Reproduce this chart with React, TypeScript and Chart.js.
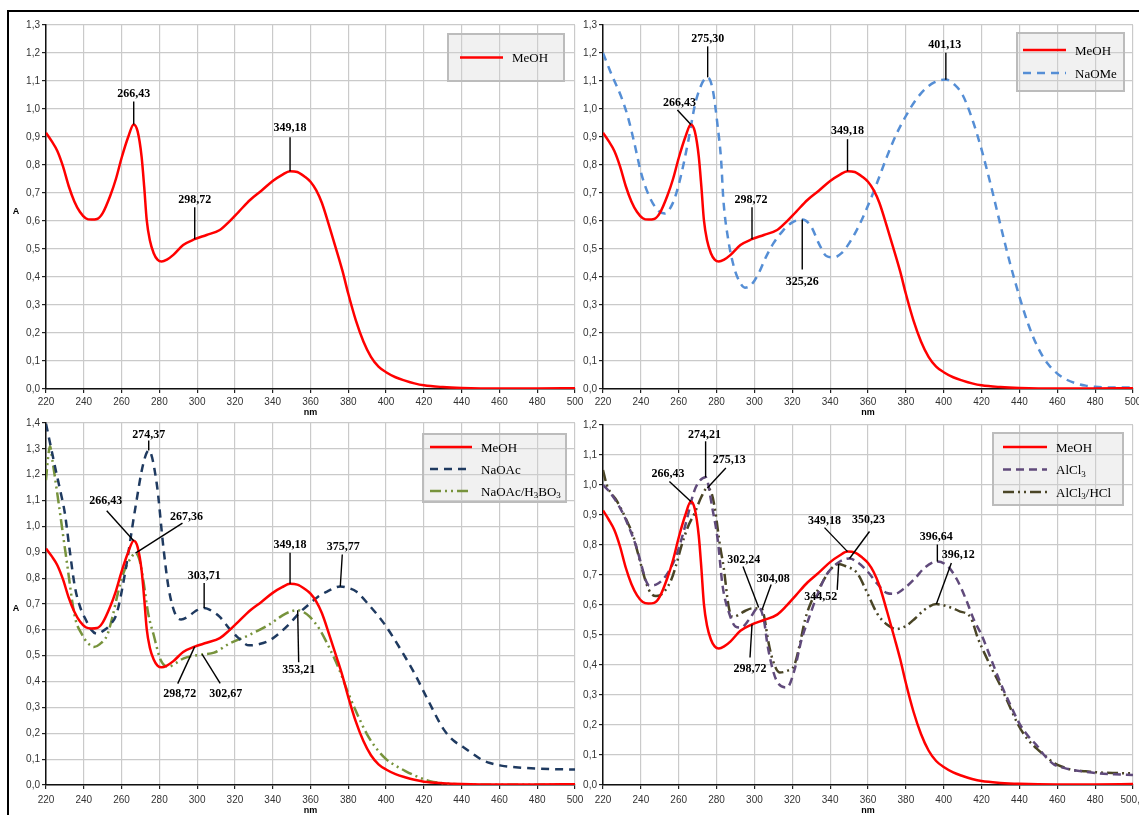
import React, { useEffect, useRef } from 'react';
import { Chart, registerables } from 'chart.js';
Chart.register(...registerables);

// ---------------- data ----------------
const meohNm = [220, 223, 226, 229, 232, 235, 238, 241, 244, 247, 250, 254, 257, 260, 263.5, 266.4, 268.5, 270.6, 272, 273.3, 275, 277, 279, 281.2, 284, 287.4, 292.6, 298.7, 305, 312, 317, 322, 328, 334, 340, 345, 349.2, 353, 357, 360, 363, 366, 370, 374, 377, 380, 384, 388, 392, 396, 400, 405, 410, 415, 420, 430, 440, 460, 480, 500];
const meohA = [0.915, 0.885, 0.85, 0.795, 0.725, 0.67, 0.632, 0.61, 0.605, 0.607, 0.628, 0.69, 0.75, 0.825, 0.9, 0.945, 0.92, 0.83, 0.72, 0.604, 0.53, 0.485, 0.462, 0.455, 0.462, 0.479, 0.514, 0.535, 0.55, 0.568, 0.598, 0.633, 0.675, 0.708, 0.743, 0.765, 0.778, 0.775, 0.758, 0.74, 0.71, 0.665, 0.58, 0.49, 0.42, 0.34, 0.245, 0.17, 0.115, 0.08, 0.06, 0.042, 0.03, 0.02, 0.013, 0.007, 0.004, 0.002, 0.002, 0.003];

const naomeNm = [220, 224.3, 229.6, 233.1, 236.6, 240.2, 244.5, 248.9, 252.5, 256.8, 260.4, 264.8, 269.2, 275.3, 278, 280.6, 282.4, 283.6, 286, 289, 292, 295, 298, 302, 306, 310, 315, 320, 325.3, 330, 334, 338, 342, 346, 350, 355, 360, 365, 370, 375, 380, 385, 390, 395, 401.1, 406, 410, 415, 420, 425, 430, 435, 440, 445, 450, 455, 460, 465, 470, 475, 480, 490, 500];
const naomeA = [1.2, 1.127, 1.044, 0.973, 0.877, 0.77, 0.687, 0.639, 0.627, 0.663, 0.74, 0.877, 1.032, 1.113, 1.068, 0.937, 0.818, 0.675, 0.54, 0.44, 0.385, 0.362, 0.37, 0.41, 0.47, 0.52, 0.565, 0.595, 0.605, 0.58, 0.52, 0.475, 0.47, 0.485, 0.52, 0.58, 0.655, 0.74, 0.83, 0.91, 0.975, 1.03, 1.07, 1.095, 1.105, 1.085, 1.05, 0.965, 0.855, 0.725, 0.585, 0.45, 0.33, 0.225, 0.145, 0.09, 0.055, 0.033, 0.02, 0.012, 0.008, 0.005, 0.005];

const naoacNm = [220, 222.5, 224.8, 227.5, 230, 232.5, 235.3, 238, 241, 244, 247, 250, 254, 257.4, 261.8, 267.1, 271.5, 274.4, 278.6, 282.1, 284.8, 288.3, 291.5, 295, 299, 303.7, 308, 312, 317, 321.2, 327.5, 333, 338.5, 344, 349.1, 354, 359.7, 364, 368.5, 375.8, 380, 384.4, 391.8, 398.9, 407.9, 415, 422.2, 430.5, 436, 440.6, 445, 450.8, 455, 460.9, 470, 479.2, 490, 500];
const naoacA = [1.397, 1.31, 1.23, 1.14, 1.05, 0.91, 0.766, 0.69, 0.64, 0.6, 0.585, 0.595, 0.62, 0.663, 0.818, 1.063, 1.243, 1.294, 1.166, 0.921, 0.766, 0.663, 0.64, 0.65, 0.672, 0.685, 0.672, 0.65, 0.605, 0.573, 0.54, 0.545, 0.56, 0.59, 0.625, 0.665, 0.702, 0.728, 0.747, 0.768, 0.762, 0.747, 0.689, 0.625, 0.522, 0.432, 0.328, 0.215, 0.17, 0.148, 0.125, 0.097, 0.085, 0.075, 0.068, 0.064, 0.061, 0.06];

const boricNm = [220, 221, 222.1, 223.5, 226.5, 230.9, 235.3, 239.2, 242, 245.3, 248.5, 252.4, 255, 258, 260.9, 265.3, 267.4, 269.5, 271.5, 274.1, 277, 280.7, 284.8, 288.5, 292.9, 302.7, 309, 317.1, 327.5, 338.5, 345, 349.1, 353.2, 356.5, 359.7, 365, 370, 375, 380, 385, 390, 395, 400, 405, 410, 415, 420, 425, 430, 440, 460, 500];
const boricA = [1.179, 1.26, 1.31, 1.25, 1.1, 0.869, 0.65, 0.58, 0.55, 0.534, 0.545, 0.58, 0.645, 0.74, 0.818, 0.882, 0.897, 0.87, 0.792, 0.663, 0.58, 0.483, 0.457, 0.47, 0.49, 0.505, 0.512, 0.547, 0.58, 0.622, 0.655, 0.67, 0.676, 0.668, 0.65, 0.6, 0.53, 0.45, 0.355, 0.27, 0.195, 0.14, 0.1, 0.075, 0.055, 0.037, 0.022, 0.012, 0.007, 0.002, 0.001, 0.001];

const alcl3Nm = [220, 222.5, 226, 230.4, 234, 237.5, 240, 242.8, 244.5, 248, 251.6, 255, 258.6, 261.5, 264.7, 267, 269.2, 274.2, 277.9, 280.6, 283.2, 286.8, 290, 293, 297, 302.2, 305, 307, 311.4, 317.2, 321, 324.9, 328.7, 333, 338, 344, 350.2, 355, 360, 365, 370, 374, 380, 385, 390, 396.6, 402, 407, 412, 416, 420, 425, 430, 435, 440, 445, 449, 453, 458.6, 463, 468, 475, 482, 490, 500];
const alcl3A = [1.0, 0.984, 0.955, 0.907, 0.855, 0.796, 0.74, 0.679, 0.665, 0.668, 0.685, 0.715, 0.762, 0.82, 0.895, 0.955, 0.995, 1.026, 0.918, 0.818, 0.663, 0.57, 0.528, 0.525, 0.55, 0.592, 0.55, 0.463, 0.352, 0.325, 0.38, 0.485, 0.555, 0.63, 0.7, 0.74, 0.755, 0.74, 0.71, 0.67, 0.64, 0.637, 0.66, 0.69, 0.725, 0.745, 0.73, 0.685, 0.615, 0.55, 0.5, 0.42, 0.34, 0.27, 0.205, 0.16, 0.133, 0.1, 0.067, 0.058, 0.05, 0.044, 0.039, 0.036, 0.033];

const alhclNm = [220, 222, 224, 227, 230, 233.6, 236, 238, 240.8, 243, 245.2, 248, 250, 253, 256, 258.5, 261.3, 264.9, 268.4, 272, 275.1, 277.5, 279.2, 281.9, 283.7, 286.4, 288.5, 291, 295, 299, 304.1, 305.5, 307, 309.5, 313.3, 317, 321.1, 324, 326.8, 330, 334.6, 340, 344.5, 348, 354.3, 359.7, 365, 370, 375, 380, 385, 390, 396.1, 402, 408, 414.4, 418, 422, 426, 429.8, 435, 439.4, 444, 449, 454, 458.6, 463, 468, 475, 481.7, 490, 500];
const alhclA = [1.05, 1.0, 0.975, 0.95, 0.915, 0.867, 0.83, 0.783, 0.717, 0.67, 0.64, 0.63, 0.632, 0.65, 0.683, 0.73, 0.794, 0.861, 0.906, 0.961, 0.99, 0.97, 0.917, 0.794, 0.728, 0.594, 0.56, 0.565, 0.58, 0.589, 0.585, 0.55, 0.49, 0.42, 0.375, 0.38, 0.4, 0.47, 0.552, 0.61, 0.661, 0.717, 0.737, 0.73, 0.706, 0.639, 0.57, 0.535, 0.52, 0.53, 0.556, 0.585, 0.603, 0.595, 0.58, 0.556, 0.49, 0.433, 0.38, 0.333, 0.26, 0.2, 0.155, 0.122, 0.095, 0.072, 0.06, 0.05, 0.046, 0.042, 0.04, 0.039];

// tick labels
const xTickLabels = ['220', '240', '260', '280', '300', '320', '340', '360', '380', '400', '420', '440', '460', '480', '500'];
const xTickLabelsBR = ['220', '240', '260', '280', '300', '320', '340', '360', '380', '400', '420', '440', '460', '480', '500,0'];
const yTicks13 = ['0,0', '0,1', '0,2', '0,3', '0,4', '0,5', '0,6', '0,7', '0,8', '0,9', '1,0', '1,1', '1,2', '1,3'];
const yTicks14 = ['0,0', '0,1', '0,2', '0,3', '0,4', '0,5', '0,6', '0,7', '0,8', '0,9', '1,0', '1,1', '1,2', '1,3', '1,4'];
const yTicks12 = ['0,0', '0,1', '0,2', '0,3', '0,4', '0,5', '0,6', '0,7', '0,8', '0,9', '1,0', '1,1', '1,2'];

// ---------------- series styling ----------------
type Series = { label: string; nm: number[]; a: number[]; color: string; width: number; dash: number[] };
const SERIES: Record<string, Series> = {
  meoh: { label: 'MeOH', nm: meohNm, a: meohA, color: '#ff0000', width: 2.5, dash: [] },
  naome: { label: 'NaOMe', nm: naomeNm, a: naomeA, color: '#558ed5', width: 2.5, dash: [8, 6] },
  naoac: { label: 'NaOAc', nm: naoacNm, a: naoacA, color: '#1f3a60', width: 2.5, dash: [8, 6] },
  boric: { label: 'NaOAc/H₃BO₃', nm: boricNm, a: boricA, color: '#77933c', width: 2.5, dash: [11, 4, 2, 4, 2, 4] },
  alcl3: { label: 'AlCl₃', nm: alcl3Nm, a: alcl3A, color: '#604a7b', width: 2.5, dash: [8, 5] },
  alhcl: { label: 'AlCl₃/HCl', nm: alhclNm, a: alhclA, color: '#4a4526', width: 2.5, dash: [11, 4, 2, 4, 2, 4] },
};

type Note = { t: string; s: string; nm: number; lead: [number, number]; txt: [number, number] };

const notesTL: Note[] = [
  { t: '266,43', s: 'meoh', nm: 266.43, lead: [0, -23], txt: [0, -31] },
  { t: '298,72', s: 'meoh', nm: 298.72, lead: [0, -32], txt: [0, -39] },
  { t: '349,18', s: 'meoh', nm: 349.18, lead: [0, -34], txt: [0, -43] },
];
const notesTR: Note[] = [
  { t: '275,30', s: 'naome', nm: 275.3, lead: [0, -31], txt: [0, -38] },
  { t: '266,43', s: 'meoh', nm: 266.43, lead: [-13.5, -14.4], txt: [-11.5, -21.5] },
  { t: '298,72', s: 'meoh', nm: 298.72, lead: [0, -32], txt: [-1, -39] },
  { t: '349,18', s: 'meoh', nm: 349.18, lead: [0, -32], txt: [0, -40] },
  { t: '401,13', s: 'naome', nm: 401.13, lead: [0, -27], txt: [-1, -35] },
  { t: '325,26', s: 'naome', nm: 325.26, lead: [0, 50], txt: [0, 62] },
];
const notesBL: Note[] = [
  { t: '274,37', s: 'naoac', nm: 274.37, lead: [0, -10], txt: [0, -16] },
  { t: '266,43', s: 'meoh', nm: 266.43, lead: [-27, -30], txt: [-28, -40] },
  { t: '267,36', s: 'boric', nm: 267.36, lead: [47, -30], txt: [51, -36] },
  { t: '303,71', s: 'naoac', nm: 303.71, lead: [0, -25], txt: [0, -32] },
  { t: '349,18', s: 'meoh', nm: 349.18, lead: [0, -31], txt: [0, -39] },
  { t: '375,77', s: 'naoac', nm: 375.77, lead: [2, -32], txt: [3, -40] },
  { t: '353,21', s: 'boric', nm: 353.21, lead: [1, 52], txt: [1, 60] },
  { t: '298,72', s: 'meoh', nm: 298.72, lead: [-17, 37], txt: [-15, 47] },
  { t: '302,67', s: 'boric', nm: 302.67, lead: [18, 29], txt: [23.6, 39] },
];
const notesBR: Note[] = [
  { t: '274,21', s: 'alcl3', nm: 274.21, lead: [0, -36], txt: [-1, -42] },
  { t: '275,13', s: 'alhcl', nm: 275.13, lead: [18.5, -20], txt: [22, -28] },
  { t: '266,43', s: 'meoh', nm: 266.43, lead: [-21.5, -20], txt: [-23, -28] },
  { t: '302,24', s: 'alcl3', nm: 302.24, lead: [-15.7, -41], txt: [-15, -48] },
  { t: '304,08', s: 'alhcl', nm: 304.08, lead: [9, -25], txt: [11, -31] },
  { t: '298,72', s: 'meoh', nm: 298.72, lead: [-2, 33], txt: [-2, 44] },
  { t: '349,18', s: 'meoh', nm: 349.18, lead: [-23, -24], txt: [-23, -31] },
  { t: '350,23', s: 'alcl3', nm: 350.23, lead: [20, -27], txt: [19, -39] },
  { t: '344,52', s: 'alhcl', nm: 344.52, lead: [-1.5, 26], txt: [-18, 33] },
  { t: '396,64', s: 'alcl3', nm: 396.64, lead: [0, -17], txt: [-1, -25] },
  { t: '396,12', s: 'alhcl', nm: 396.12, lead: [15, -41], txt: [22, -49] },
];

// ---------------- panel layout ----------------
type Legend = { w: number; h: number; right: number; top: number; row0: number; gap: number; l0: number; l1: number; tx: number };
type Panel = {
  key: string; left: number; top: number; width: number; height: number; padTop: number; padRight: number; xAxisH: number; tickPad: number;
  yMax: number; yLabels: string[]; xLabels: string[]; series: string[]; showA: boolean; legend: Legend; notes: Note[];
};
const PANELS: Panel[] = [
  { key: 'tl', left: 0, top: 0, width: 600, height: 419, padTop: 25, padRight: 25, xAxisH: 30, tickPad: 3, yMax: 1.3, yLabels: yTicks13, xLabels: xTickLabels, series: ['meoh'], showA: true,
    legend: { w: 116, h: 47, right: 11, top: 9, row0: 23.5, gap: 22, l0: 12, l1: 55, tx: 64 }, notes: notesTL },
  { key: 'tr', left: 557, top: 0, width: 601, height: 419, padTop: 25, padRight: 25, xAxisH: 30, tickPad: 3, yMax: 1.3, yLabels: yTicks13, xLabels: xTickLabels, series: ['meoh', 'naome'], showA: false,
    legend: { w: 107, h: 58, right: 9, top: 8, row0: 17, gap: 23, l0: 6, l1: 49, tx: 58 }, notes: notesTR },
  { key: 'bl', left: 0, top: 400, width: 600, height: 417, padTop: 23, padRight: 25, xAxisH: 32, tickPad: 5, yMax: 1.4, yLabels: yTicks14, xLabels: xTickLabels, series: ['meoh', 'naoac', 'boric'], showA: true,
    legend: { w: 143, h: 68, right: 9, top: 11, row0: 13, gap: 22, l0: 7, l1: 49, tx: 58 }, notes: notesBL },
  { key: 'br', left: 557, top: 400, width: 601, height: 417, padTop: 25, padRight: 25, xAxisH: 32, tickPad: 5, yMax: 1.2, yLabels: yTicks12, xLabels: xTickLabelsBR, series: ['meoh', 'alcl3', 'alhcl'], showA: false,
    legend: { w: 130, h: 72, right: 10, top: 8, row0: 14, gap: 22.5, l0: 10, l1: 54, tx: 63 }, notes: notesBR },
];

const SANS = '"Liberation Sans", Arial, Helvetica, sans-serif';
const SERIF = '"Liberation Serif", "Times New Roman", Times, serif';

function valueAt(xs: number[], ys: number[], x: number): number {
  for (let i = 0; i < xs.length - 1; i++) {
    if (x >= xs[i] && x <= xs[i + 1]) {
      const t = (x - xs[i]) / (xs[i + 1] - xs[i]);
      return ys[i] + t * (ys[i + 1] - ys[i]);
    }
  }
  return ys[ys.length - 1];
}

function drawRich(ctx: CanvasRenderingContext2D, text: string, x: number, y: number) {
  let cx = x;
  const base = y + 4.5;
  for (const ch of text) {
    if (ch === '₃') {
      ctx.font = `9px ${SERIF}`;
      ctx.fillText('3', cx, base + 2.5);
      cx += ctx.measureText('3').width;
    } else {
      ctx.font = `13px ${SERIF}`;
      ctx.fillText(ch, cx, base);
      cx += ctx.measureText(ch).width;
    }
  }
}

function makePlugin(p: Panel) {
  return {
    id: 'decor_' + p.key,
    afterDatasetsDraw(chart: any) {
      const ctx: CanvasRenderingContext2D = chart.ctx;
      const xs = chart.scales.x;
      const ys = chart.scales.y;
      const ca = chart.chartArea;
      ctx.save();
      // legend
      const L = p.legend;
      const bx = ca.right - L.right - L.w;
      const by = ca.top + L.top;
      ctx.fillStyle = 'rgba(210,210,210,0.32)';
      ctx.fillRect(bx, by, L.w, L.h);
      ctx.strokeStyle = '#bcbcbc';
      ctx.lineWidth = 2;
      ctx.strokeRect(bx, by, L.w, L.h);
      p.series.forEach((k, i) => {
        const s = SERIES[k];
        const y = by + L.row0 + i * L.gap;
        ctx.strokeStyle = s.color;
        ctx.lineWidth = s.width;
        ctx.setLineDash(s.dash);
        ctx.beginPath();
        ctx.moveTo(bx + L.l0, y);
        ctx.lineTo(bx + L.l1, y);
        ctx.stroke();
        ctx.setLineDash([]);
        ctx.fillStyle = '#000';
        ctx.textAlign = 'left';
        ctx.textBaseline = 'alphabetic';
        drawRich(ctx, s.label, bx + L.tx, y);
      });
      // peak labels
      ctx.strokeStyle = '#000';
      ctx.lineWidth = 1.4;
      ctx.fillStyle = '#000';
      ctx.font = `bold 12px ${SERIF}`;
      ctx.textAlign = 'center';
      ctx.textBaseline = 'middle';
      for (const n of p.notes) {
        const s = SERIES[n.s];
        const a = valueAt(s.nm, s.a, n.nm);
        const px = xs.getPixelForValue(n.nm);
        const py = ys.getPixelForValue(a);
        ctx.beginPath();
        ctx.moveTo(px, py);
        ctx.lineTo(px + n.lead[0], py + n.lead[1]);
        ctx.stroke();
        ctx.fillText(n.t, px + n.txt[0], py + n.txt[1]);
      }
      // axis letter
      if (p.showA) {
        ctx.font = `bold 9px ${SANS}`;
        ctx.fillText('A', ca.left - 30, (ca.top + ca.bottom) / 2 + 5);
      }
      ctx.restore();
    },
  };
}

function buildConfig(p: Panel): any {
  return {
    type: 'line',
    data: {
      datasets: p.series.map((k) => {
        const s = SERIES[k];
        return {
          label: s.label,
          data: s.nm.map((x, i) => ({ x, y: s.a[i] })),
          borderColor: s.color,
          borderWidth: s.width,
          borderDash: s.dash,
          pointRadius: 0,
          fill: false,
          cubicInterpolationMode: 'monotone',
        };
      }),
    },
    options: {
      responsive: false,
      animation: false,
      events: [],
      layout: { padding: { top: p.padTop, right: p.padRight, left: 0, bottom: 0 } },
      plugins: { legend: { display: false }, tooltip: { enabled: false } },
      scales: {
        x: {
          type: 'linear',
          min: 220,
          max: 500,
          afterFit: (s: any) => { s.height = p.xAxisH; },
          ticks: {
            stepSize: 20, autoSkip: false, maxRotation: 0, padding: p.tickPad, color: '#333',
            font: { family: SANS, size: 10 },
            callback: (_v: any, i: number) => p.xLabels[i],
          },
          grid: { color: '#cacaca', lineWidth: 1.2, tickLength: 4, tickColor: '#222' },
          border: { color: '#111', width: 1.5 },
          title: { display: true, text: 'nm', color: '#000', font: { family: SANS, size: 9, weight: 'bold' }, padding: { top: 0, bottom: 1 } },
        },
        y: {
          type: 'linear',
          min: 0,
          max: p.yMax,
          afterFit: (s: any) => { s.width = 46; },
          ticks: {
            stepSize: 0.1, autoSkip: false, padding: 2, color: '#333',
            font: { family: SANS, size: 10 },
            callback: (_v: any, i: number) => p.yLabels[i],
          },
          grid: { color: '#cacaca', lineWidth: 1.2, tickLength: 4, tickColor: '#222' },
          border: { color: '#111', width: 1.5 },
        },
      },
    },
    plugins: [makePlugin(p)],
  };
}

export default function App() {
  const r0 = useRef<HTMLCanvasElement>(null);
  const r1 = useRef<HTMLCanvasElement>(null);
  const r2 = useRef<HTMLCanvasElement>(null);
  const r3 = useRef<HTMLCanvasElement>(null);
  const refs = [r0, r1, r2, r3];
  useEffect(() => {
    const charts = PANELS.map((p, i) => new Chart(refs[i].current as HTMLCanvasElement, buildConfig(p)));
    return () => charts.forEach((c) => c.destroy());
  }, []);
  return (
    <div style={{ position: 'fixed', left: 0, top: 0, width: 1139, height: 815, overflow: 'hidden', background: '#fff' }}>
      <div style={{ position: 'absolute', left: 7, top: 10, width: 1200, height: 900, borderLeft: '2px solid #000', borderTop: '2px solid #000' }} />
      {PANELS.map((p, i) => (
        <canvas
          key={p.key}
          ref={refs[i]}
          width={p.width}
          height={p.height}
          style={{ position: 'absolute', left: p.left, top: p.top, width: p.width, height: p.height }}
        />
      ))}
    </div>
  );
}
